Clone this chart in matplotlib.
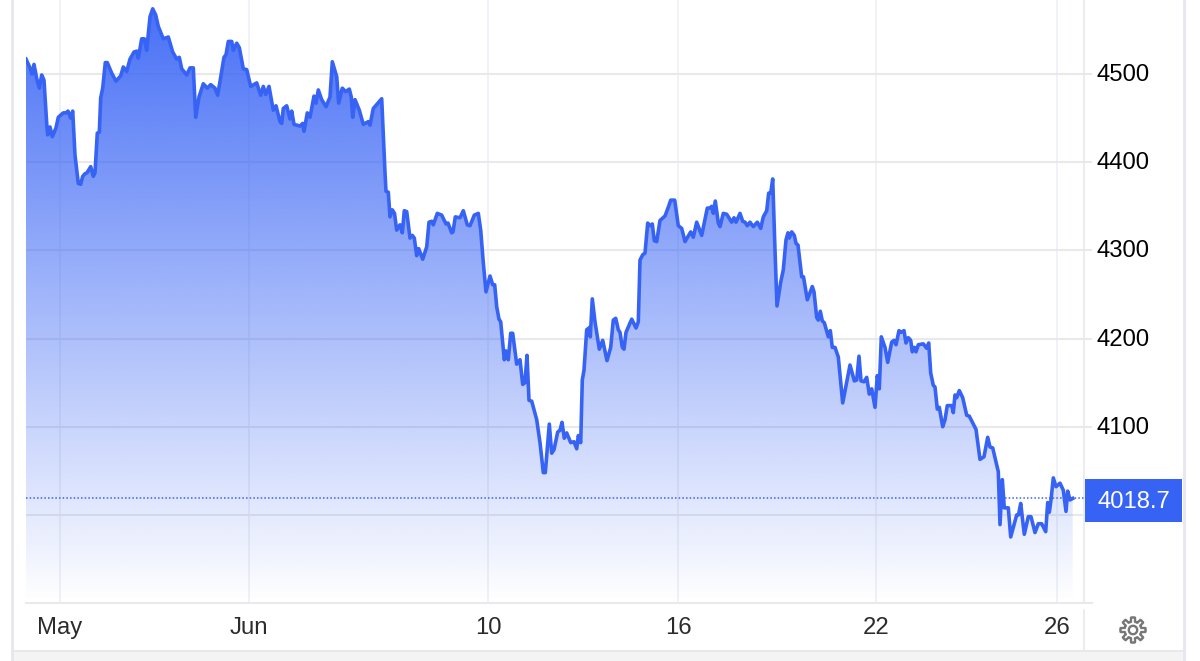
import numpy as np
import matplotlib
matplotlib.use("Agg")
import matplotlib.pyplot as plt
from matplotlib.patches import Polygon, Rectangle, Circle
from matplotlib.lines import Line2D
from matplotlib.transforms import ScaledTranslation

plt.rcParams['font.family'] = ['Liberation Sans', 'DejaVu Sans']

# time axis position of each quote (uneven sessions)
sessions = [26,30,32,34,36.7,39.3,41.7,44,46.7,47.7,50,52.3,56,58.3,63.3,66,68,70.7,72.7,75,78.3,80.7,82.7,85,87,90.7,93.3,95,97.3,99.3,
100.7,102.7,105.3,107.3,111.7,116,120.7,123.3,126.7,130,134,136.7,138.3,141.7,144.3,146.7,150,152.7,155.7,158.3,163.3,168.3,172.7,176.7,179.3,181.7,186.7,190,193.3,195.7,
199,203.3,207.3,210.7,215,217.7,224,226,228.3,231.7,233.3,236.7,239.3,243.3,246.7,250.7,256.7,260.7,263.3,265.7,269,273.3,276,280,281.7,283.3,286.7,290,291.7,294,
300,302.7,304,307.3,310,314,316,318.3,321.7,326,330,332.3,336.7,338.7,342.3,345.7,349.3,351.3,352.7,355,359.3,363.3,368.3,370,373.3,381.7,385,386,388.3,390,
392.3,394.5,396.7,400,402.3,404.3,406.7,410,412.3,414.3,416.7,418.7,422.7,426.7,429,431.7,433.3,437.3,441.7,446,448,451.7,453,455.3,460,463.3,467.3,470,474.3,478.3,
480.7,483.3,486,490,492.7,494.7,496.7,499,500.7,504.3,506,508.3,510.7,512.7,516.7,520,522.7,525,527,529,531.7,536.7,540,543.3,545.3,549.3,551.7,554,557.7,560,
562,564.3,566.7,570.7,574,576.7,578.3,580.7,582.3,584,586.7,590,590.3,592.3,595,599.3,602.7,607,610.7,613.3,615.7,618.3,620,622.3,624,626,631.7,636,638.3,640,
642.7,645,647.7,650,652.3,654.3,656.7,660,665,668.3,670.7,674.7,678.3,681.7,685,690.7,693.3,696.7,701.7,707.3,710,711.7,713.3,715.3,718.3,720,723.3,726.7,731.7,734,
736,740,742.7,745,747.3,750,753.3,757.3,760.7,763.3,766.7,768.7,770.7,772.7,775,777,780.7,783.3,786,788,789.3,791.7,794.3,796,798,801.7,803.5,807.3,812.3,814,
816.7,818.3,820.3,822.3,824.3,828.3,830.3,832.3,835,838.3,842.7,850,854.3,856.7,859,861,864,866.7,869.3,871.7,875,877.3,879.3,881.3,885,887.7,891.7,894,896,899,
901,904,906,908.3,910.7,912.3,914.3,916,918.3,923.3,926.7,928.7,930.7,933.3,935,937.3,939.3,942.7,945,947.3,951.7,953.3,955,956.7,959.3,962.7,966.7,969.3,976,980,
984,987.7,990,992.7,998.3,1000,1002.3,1004.3,1008.3,1010.7,1016.7,1018.5,1020.7,1024.3,1028.3,1031,1035,1038.3,1041.7,1045.7,1047.7,1049.3,1051,1053.3,1056,1060,1063.3,1066,1067.7,1070,1072.7]

prices = [4517,4507,4500,4511,4495,4484,4499,4493,4444,4431,4440,4429,4439,4451,4456,4456,4458,4450,4458,4408,4376,4375,4384,4387,4388,4395,4384,4388,4433,4434,
4473,4484,4513,4513,4501,4492,4498,4508,4503,4517,4525,4526,4518,4540,4540,4527,4565,4574,4567,4554,4540,4542,4525,4517,4519,4506,4499,4507,4507,4451,
4474,4489,4484,4488,4484,4476,4519,4522,4537,4537,4527,4535,4530,4506,4505,4486,4490,4476,4486,4477,4486,4459,4464,4446,4444,4461,4464,4449,4458,4443,
4441,4444,4435,4456,4451,4475,4467,4482,4471,4463,4474,4514,4497,4467,4484,4480,4483,4474,4451,4471,4459,4443,4446,4442,4461,4472,4388,4367,4366,4338,
4346,4342,4323,4329,4320,4345,4344,4314,4317,4314,4294,4302,4290,4304,4332,4333,4329,4342,4340,4330,4331,4320,4321,4338,4337,4345,4329,4328,4340,4342,
4323,4286,4253,4271,4261,4261,4236,4222,4219,4176,4186,4176,4206,4206,4171,4176,4148,4150,4181,4130,4129,4108,4082,4048,4048,4103,4070,4074,4094,4096,
4105,4087,4093,4082,4083,4075,4090,4082,4153,4164,4210,4213,4202,4245,4219,4188,4198,4175,4190,4221,4223,4210,4207,4190,4188,4207,4222,4212,4219,4289,
4295,4297,4331,4328,4330,4311,4310,4334,4339,4349,4357,4357,4328,4325,4310,4321,4315,4332,4317,4348,4348,4350,4342,4356,4331,4327,4342,4341,4332,4337,
4332,4342,4333,4332,4328,4332,4327,4332,4325,4338,4345,4365,4365,4381,4300,4237,4264,4278,4312,4320,4314,4321,4317,4308,4306,4270,4270,4244,4259,4253,
4224,4221,4231,4220,4218,4202,4209,4190,4190,4179,4127,4170,4152,4153,4180,4152,4151,4156,4137,4143,4122,4158,4143,4202,4190,4173,4196,4198,4193,4209,
4207,4209,4195,4201,4198,4185,4190,4185,4193,4194,4189,4195,4161,4147,4145,4120,4122,4100,4108,4124,4124,4116,4136,4133,4141,4133,4113,4112,4097,4063,
4066,4088,4077,4076,4049,3989,4040,4008,4008,3975,4000,4000,4013,3978,3998,3998,3980,3990,3990,3981,4014,4003,4017,4042,4032,4036,4028,4004,4027,4017,4018.7]

last_price = 4018.7
y_ticks = [4000, 4100, 4200, 4300, 4400, 4500]
y_tick_labels = ['', '4100', '4200', '4300', '4400', '4500']
x_ticks = [60, 249, 488, 678, 876, 1057]
x_tick_labels = ['May', 'Jun', '10', '16', '22', '26']

W, H = 1200, 661
BLUE = '#3763F5'
GRID = '#e9e9ec'
fig = plt.figure(figsize=(W/100, H/100), dpi=100, facecolor='white')
ax = fig.add_axes([26/W, (H-603)/H, (1084-26)/W, 603/H])
ax.set_xlim(26, 1084)
ax.set_ylim(3900.1, 4584)
ax.set_facecolor('white')

ax.set_axisbelow(True)
ax.yaxis.tick_right()
ax.set_yticks(y_ticks, y_tick_labels, fontsize=17.2, color='black')
ax.set_xticks(x_ticks, x_tick_labels, fontsize=17.2, color='#2b2b2b')
ax.tick_params(axis='y', length=5.8, width=1.5, color=GRID, pad=3.3)
ax.tick_params(axis='x', length=0, pad=10)
shift_up = ScaledTranslation(0, 1.5/100, fig.dpi_scale_trans)
for lab in ax.get_yticklabels():
    lab.set_transform(lab.get_transform() + shift_up)
ax.yaxis.grid(True, color=GRID, lw=1.5)
ax.xaxis.grid(True, color='#eef1f6', lw=1.3)
for s in ['top', 'left']:
    ax.spines[s].set_visible(False)
ax.spines['right'].set_color(GRID)
ax.spines['right'].set_linewidth(1.2)
ax.spines['bottom'].set_color(GRID)
ax.spines['bottom'].set_linewidth(1.5)
ax.add_line(Line2D([1084, 1092], [3900.1, 3900.1], color=GRID, lw=1.5,
                   clip_on=False, transform=ax.transData))

# gradient area under the price line
x0, x1 = sessions[0], sessions[-1]
ymax, ymin = 4584, 3900.1
rgba = np.zeros((256, 2, 4))
rgba[..., :3] = matplotlib.colors.to_rgb(BLUE)
rgba[..., 3] = np.linspace(0.93, 0.0, 256)[:, None]
im = ax.imshow(rgba, extent=[x0, x1, ymin, ymax], aspect='auto', origin='upper',
               zorder=2, interpolation='bilinear')
verts = [(x0, ymin)] + list(zip(sessions, prices)) + [(x1, ymin)]
clip = Polygon(verts, closed=True, transform=ax.transData, fc='none', ec='none')
ax.add_patch(clip)
im.set_clip_path(clip)
ax.set_xlim(26, 1084)
ax.set_ylim(3900.1, 4584)

# price line and last-price marker line
ax.plot(sessions, prices, color=BLUE, lw=2.6, zorder=3, solid_joinstyle='round')
ax.axhline(last_price, color=BLUE, lw=1.1, ls=(0, (1, 1.4)), zorder=3)

# helper overlay in pixel coordinates for the widget frame
ov = fig.add_axes([0, 0, 1, 1], facecolor='none')
ov.set_xlim(0, W)
ov.set_ylim(H, 0)
ov.axis('off')
ov.add_patch(Rectangle((13, 652), 1170, 9, fc='#f4f4f5', ec='none'))
ov.plot([12, 1183], [651, 651], color='#e6e6e9', lw=1.3)
ov.plot([12, 12], [0, H], color='#e6e6ee', lw=2)
ov.plot([1183.5, 1183.5], [0, H], color='#e6e6ee', lw=2)
ov.plot([1084, 1084], [610, 650], color=GRID, lw=1.2)

# current price tag
ov.add_patch(Rectangle((1085, 479), 97, 43, fc=BLUE, ec='none'))
ov.text(1133.5, 502.5, f'{last_price:.1f}', color='white', fontsize=17.2,
        ha='center', va='center')

# settings gear
cx, cy = 1133, 630
ang = np.linspace(0, 2*np.pi, 241)
rad = 10.5 + 2.1*np.clip(3*np.cos(8*ang), -1, 1)
ov.add_patch(Polygon(np.c_[cx + rad*np.cos(ang), cy + rad*np.sin(ang)], closed=True,
                     fc='none', ec='#777777', lw=1.7))
ov.add_patch(Circle((cx, cy), 4.2, fc='none', ec='#777777', lw=1.7))

fig.savefig('out.png', dpi=100)
